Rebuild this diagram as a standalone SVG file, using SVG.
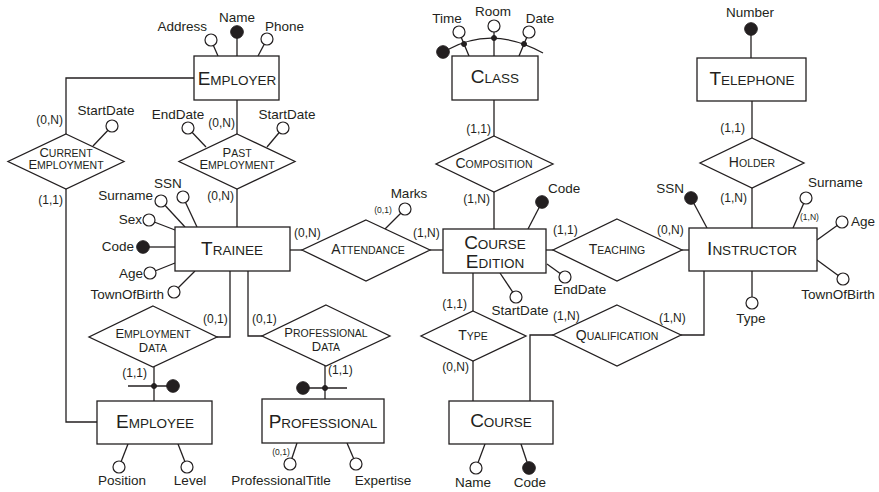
<svg xmlns="http://www.w3.org/2000/svg" width="879" height="492" viewBox="0 0 879 492">
<style>
text{font-family:"Liberation Sans",Arial,sans-serif;fill:#231f20}
.ent{font-size:13.5px;text-anchor:middle}
.ent .b{font-size:19px}
.rel{font-size:10.5px;text-anchor:middle}
.rel .b{font-size:14px}
.rel2 .b{font-size:13px}
.at{font-size:13.5px}
.m{text-anchor:middle}
.e{text-anchor:end}
.card{font-size:12px}
.sc{font-size:8.5px}
rect,polygon{fill:#fff;stroke:#231f20;stroke-width:1.3}
line,polyline,path{stroke:#231f20;stroke-width:1.3;fill:none}
.o{fill:#fff;stroke:#231f20;stroke-width:1.2}
.f{fill:#231f20;stroke:#231f20;stroke-width:1}
</style>

<g id="connectors">
<polyline points="194,78 66,78 66,134"/>
<polyline points="66,189 66,422 97,422"/>
<line x1="237" y1="100" x2="237" y2="134"/>
<line x1="237" y1="189" x2="237" y2="227"/>
<line x1="290" y1="250" x2="302" y2="250"/>
<line x1="430" y1="250" x2="443" y2="250"/>
<line x1="494" y1="100" x2="494" y2="136"/>
<line x1="494" y1="192" x2="494" y2="229"/>
<line x1="546" y1="250" x2="553" y2="250"/>
<line x1="682" y1="250" x2="689" y2="250"/>
<line x1="752" y1="101" x2="752" y2="138"/>
<line x1="752" y1="188" x2="752" y2="228"/>
<polyline points="704,271 704,335 681,335"/>
<polyline points="553,335 530,335 530,401"/>
<line x1="473" y1="273" x2="473" y2="311"/>
<line x1="473" y1="361" x2="473" y2="401"/>
<polyline points="230,271 230,337 217,337"/>
<line x1="154" y1="367" x2="154" y2="401"/>
<polyline points="248,271 248,336 262,336"/>
<line x1="325" y1="366" x2="325" y2="399"/>
<text class="card e" x="63" y="124">(0,N)</text>
<text class="card e" x="63" y="204">(1,1)</text>
<text class="card e" x="235" y="127">(0,N)</text>
<text class="card e" x="234" y="200">(0,N)</text>
<text class="card" x="294" y="237">(0,N)</text>
<text class="card" x="413" y="237">(1,N)</text>
<text class="card e" x="491" y="133">(1,1)</text>
<text class="card e" x="490" y="203">(1,N)</text>
<text class="card" x="553" y="234">(1,1)</text>
<text class="card" x="657" y="234">(0,N)</text>
<text class="card e" x="745" y="132">(1,1)</text>
<text class="card e" x="747" y="202">(1,N)</text>
<text class="card" x="659" y="322">(1,N)</text>
<text class="card" x="553" y="320">(1,N)</text>
<text class="card e" x="467" y="308">(1,1)</text>
<text class="card e" x="469" y="371">(0,N)</text>
<text class="card" x="203" y="323">(0,1)</text>
<text class="card e" x="147" y="377">(1,1)</text>
<text class="card" x="252" y="323">(0,1)</text>
<text class="card" x="328" y="374">(1,1)</text>
</g>

<g id="employer">
<line x1="218" y1="56" x2="211" y2="40"/>
<line x1="237" y1="56" x2="237" y2="32"/>
<line x1="258" y1="56" x2="267" y2="39"/>
<circle class="o" cx="211" cy="40" r="6"/>
<circle class="f" cx="237" cy="32" r="6.3"/>
<circle class="o" cx="267" cy="39" r="6"/>
<text class="at e" x="207" y="31">Address</text>
<text class="at m" x="237" y="22">Name</text>
<text class="at" x="265" y="31">Phone</text>
<rect x="194" y="56" width="85" height="44"/>
<text class="ent" x="237" y="85"><tspan class="b">E</tspan>MPLOYER</text>
</g>

<g id="current-employment">
<line x1="93" y1="146" x2="112" y2="126"/>
<circle class="o" cx="112" cy="126" r="6"/>
<text class="at m" x="106" y="115">StartDate</text>
<polygon points="66,134 124,161.5 66,189 8,161.5"/>
<text class="rel rel2"><tspan x="66" y="157"><tspan class="b">C</tspan>URRENT</tspan><tspan x="66" y="169"><tspan class="b">E</tspan>MPLOYMENT</tspan></text>
</g>

<g id="past-employment">
<line x1="206" y1="147" x2="188" y2="128"/>
<line x1="267" y1="147" x2="283" y2="128"/>
<circle class="o" cx="188" cy="128" r="6"/>
<circle class="o" cx="283" cy="128" r="6"/>
<text class="at m" x="178" y="119">EndDate</text>
<text class="at m" x="287" y="119">StartDate</text>
<polygon points="237,134 295,161.5 237,189 179,161.5"/>
<text class="rel rel2"><tspan x="237" y="157"><tspan class="b">P</tspan>AST</tspan><tspan x="237" y="169"><tspan class="b">E</tspan>MPLOYMENT</tspan></text>
</g>

<g id="trainee">
<line x1="197" y1="227" x2="183" y2="197"/>
<line x1="185" y1="227" x2="161" y2="201"/>
<line x1="175" y1="230" x2="149" y2="220"/>
<line x1="175" y1="247" x2="143" y2="247"/>
<line x1="175" y1="263" x2="150" y2="273"/>
<line x1="195" y1="271" x2="174" y2="292"/>
<circle class="o" cx="183" cy="197" r="6"/>
<circle class="o" cx="161" cy="201" r="6"/>
<circle class="o" cx="149" cy="220" r="6"/>
<circle class="f" cx="143" cy="247" r="6.3"/>
<circle class="o" cx="150" cy="273" r="6"/>
<circle class="o" cx="174" cy="292" r="6"/>
<text class="at m" x="168" y="188">SSN</text>
<text class="at e" x="153" y="200">Surname</text>
<text class="at e" x="142" y="224">Sex</text>
<text class="at e" x="134" y="251">Code</text>
<text class="at e" x="143" y="278">Age</text>
<text class="at e" x="164" y="299">TownOfBirth</text>
<rect x="175" y="227" width="115" height="44"/>
<text class="ent" x="232" y="255"><tspan class="b">T</tspan>RAINEE</text>
</g>

<g id="attendance">
<line x1="385" y1="229" x2="405" y2="209"/>
<circle class="o" cx="405" cy="209" r="6"/>
<text class="at m" x="409" y="198">Marks</text>
<text class="sc m" x="383" y="213">(0,1)</text>
<polygon points="366,220 430,250 366,281 302,250"/>
<text class="rel" x="368" y="254"><tspan class="b">A</tspan>TTENDANCE</text>
</g>

<g id="class">
<line x1="469" y1="56" x2="459" y2="32"/>
<line x1="494" y1="56" x2="494" y2="26"/>
<line x1="519" y1="56" x2="529" y2="32"/>
<path d="M447,50 Q493,25 543,53"/>
<circle class="f" cx="443" cy="52" r="6.3"/>
<circle class="f" cx="464" cy="44" r="2.5"/>
<circle class="f" cx="494" cy="38" r="2.5"/>
<circle class="f" cx="524" cy="44" r="2.5"/>
<circle class="o" cx="459" cy="32" r="6"/>
<circle class="o" cx="494" cy="26" r="6"/>
<circle class="o" cx="529" cy="32" r="6"/>
<text class="at m" x="447" y="23">Time</text>
<text class="at m" x="493" y="16">Room</text>
<text class="at m" x="540" y="23">Date</text>
<rect x="452" y="56" width="86" height="44"/>
<text class="ent" x="495" y="83"><tspan class="b">C</tspan>LASS</text>
</g>

<g id="composition">
<polygon points="494,136 553,164 494,192 436,164"/>
<text class="rel" x="494" y="168"><tspan class="b">C</tspan>OMPOSITION</text>
</g>

<g id="course-edition">
<line x1="528" y1="229" x2="542" y2="202"/>
<line x1="547" y1="264" x2="565" y2="277"/>
<line x1="500" y1="273" x2="516" y2="297"/>
<circle class="f" cx="542" cy="202" r="6.3"/>
<circle class="o" cx="565" cy="277" r="6"/>
<circle class="o" cx="516" cy="297" r="6"/>
<text class="at" x="548" y="193">Code</text>
<text class="at m" x="580" y="294">EndDate</text>
<text class="at m" x="520" y="315">StartDate</text>
<rect x="443" y="229" width="103" height="44"/>
<text class="ent"><tspan x="495" y="249"><tspan class="b">C</tspan>OURSE</tspan><tspan x="495" y="268"><tspan class="b">E</tspan>DITION</tspan></text>
</g>

<g id="teaching">
<polygon points="617,219 682,250 617,281 553,250"/>
<text class="rel" x="617" y="254"><tspan class="b">T</tspan>EACHING</text>
</g>

<g id="telephone">
<line x1="751" y1="58" x2="751" y2="29"/>
<circle class="f" cx="751" cy="29" r="6.3"/>
<text class="at m" x="750" y="17">Number</text>
<rect x="697" y="58" width="109" height="43"/>
<text class="ent" x="752" y="85"><tspan class="b">T</tspan>ELEPHONE</text>
</g>

<g id="holder">
<polygon points="752,138 804,163 752,188 700,163"/>
<text class="rel" x="752" y="167"><tspan class="b">H</tspan>OLDER</text>
</g>

<g id="instructor">
<line x1="707" y1="228" x2="691" y2="198"/>
<line x1="793" y1="228" x2="806" y2="198"/>
<line x1="817" y1="240" x2="842" y2="222"/>
<line x1="817" y1="260" x2="843" y2="279"/>
<line x1="752" y1="271" x2="752" y2="303"/>
<circle class="f" cx="691" cy="198" r="6.3"/>
<circle class="o" cx="806" cy="198" r="6"/>
<circle class="o" cx="842" cy="222" r="6"/>
<circle class="o" cx="843" cy="279" r="6"/>
<circle class="o" cx="752" cy="303" r="6"/>
<text class="at e" x="684" y="193">SSN</text>
<text class="at" x="808" y="187">Surname</text>
<text class="sc" x="800" y="220">(1,N)</text>
<text class="at" x="851" y="226">Age</text>
<text class="at m" x="838" y="299">TownOfBirth</text>
<text class="at m" x="751" y="323">Type</text>
<rect x="689" y="228" width="128" height="43"/>
<text class="ent" x="752" y="255"><tspan class="b">I</tspan>NSTRUCTOR</text>
</g>

<g id="qualification">
<polygon points="617,305 681,335 617,366 553,335"/>
<text class="rel" x="617" y="340"><tspan class="b">Q</tspan>UALIFICATION</text>
</g>

<g id="type">
<polygon points="473,311 526,336 473,361 421,336"/>
<text class="rel" x="473" y="340"><tspan class="b">T</tspan>YPE</text>
</g>

<g id="course">
<line x1="485" y1="444" x2="476" y2="468"/>
<line x1="521" y1="444" x2="529" y2="468"/>
<circle class="o" cx="476" cy="468" r="6"/>
<circle class="f" cx="529" cy="468" r="6.3"/>
<text class="at m" x="473" y="487">Name</text>
<text class="at m" x="530" y="487">Code</text>
<rect x="449" y="401" width="104" height="43"/>
<text class="ent" x="501" y="427"><tspan class="b">C</tspan>OURSE</text>
</g>

<g id="employment-data">
<polygon points="153,306 217,337 153,367 89,337"/>
<text class="rel rel2"><tspan x="153" y="338"><tspan class="b">E</tspan>MPLOYMENT</tspan><tspan x="153" y="352"><tspan class="b">D</tspan>ATA</tspan></text>
</g>

<g id="employee">
<line x1="128" y1="386" x2="173" y2="386"/>
<circle class="f" cx="154" cy="386" r="2.5"/>
<circle class="f" cx="173" cy="386" r="6.3"/>
<line x1="128" y1="444" x2="119" y2="467"/>
<line x1="178" y1="444" x2="187" y2="467"/>
<circle class="o" cx="119" cy="467" r="6"/>
<circle class="o" cx="187" cy="467" r="6"/>
<text class="at m" x="122" y="485">Position</text>
<text class="at m" x="190" y="485">Level</text>
<rect x="97" y="401" width="115" height="43"/>
<text class="ent" x="155" y="428"><tspan class="b">E</tspan>MPLOYEE</text>
</g>

<g id="professional-data">
<polygon points="326,305 390,336 326,366 262,336"/>
<text class="rel rel2"><tspan x="326" y="337"><tspan class="b">P</tspan>ROFESSIONAL</tspan><tspan x="326" y="351"><tspan class="b">D</tspan>ATA</tspan></text>
</g>

<g id="professional">
<line x1="303" y1="388" x2="347" y2="388"/>
<circle class="f" cx="325" cy="388" r="2.5"/>
<circle class="f" cx="303" cy="388" r="6.3"/>
<line x1="297" y1="443" x2="290" y2="464"/>
<line x1="347" y1="443" x2="356" y2="464"/>
<circle class="o" cx="290" cy="464" r="6"/>
<circle class="o" cx="356" cy="464" r="6"/>
<text class="sc m" x="281" y="455">(0,1)</text>
<text class="at m" x="281" y="485">ProfessionalTitle</text>
<text class="at m" x="383" y="485">Expertise</text>
<rect x="262" y="399" width="122" height="44"/>
<text class="ent" x="323" y="428"><tspan class="b">P</tspan>ROFESSIONAL</text>
</g>
</svg>
